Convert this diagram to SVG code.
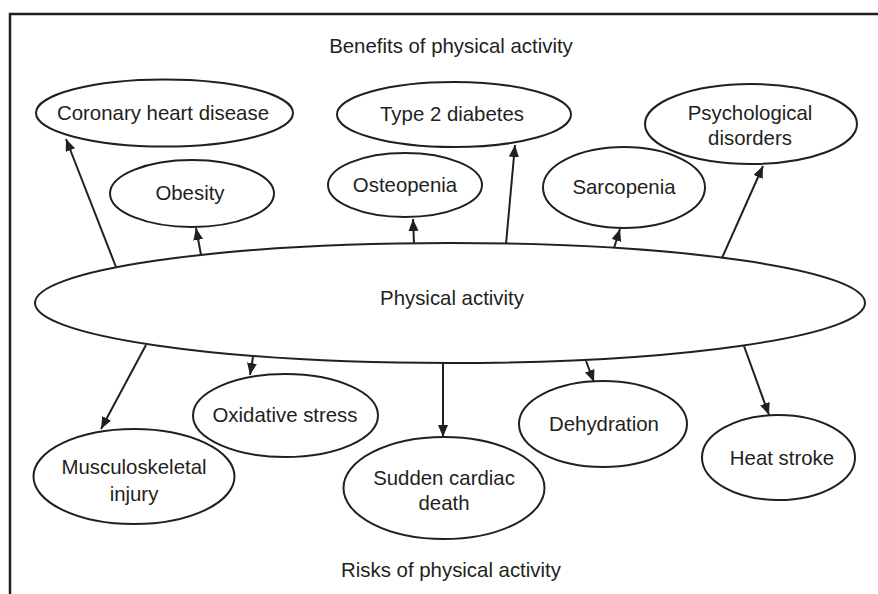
<svg xmlns="http://www.w3.org/2000/svg" width="878" height="594" viewBox="0 0 878 594">
<style>
.n{fill:#fff;stroke:#231f20;stroke-width:2}
.t{font-family:"Liberation Sans",Arial,sans-serif;font-size:20.4px;fill:#231f20;text-anchor:middle;dominant-baseline:central}
.c line{stroke:#231f20;stroke-width:2;marker-end:url(#ah)}
</style>
<defs>
<marker id="ah" markerUnits="userSpaceOnUse" markerWidth="14" markerHeight="12" refX="12" refY="5" orient="auto">
<path d="M0,0 L12,5 L0,10 Z" fill="#231f20"/>
</marker>
</defs>
<rect x="0" y="0" width="878" height="594" fill="#fff"/>
<path d="M10,594 V14 H878" fill="none" stroke="#231f20" stroke-width="2.5"/>
<text class="t" x="451" y="46">Benefits of physical activity</text>
<text class="t" x="451" y="570">Risks of physical activity</text>
<g id="physical-activity"><ellipse class="n" cx="450" cy="303" rx="415" ry="60"/><text class="t" x="452" y="298">Physical activity</text></g>
<g id="coronary"><ellipse class="n" cx="164.5" cy="113" rx="128.5" ry="33.5"/><text class="t" x="163" y="113">Coronary heart disease</text></g>
<g id="type2"><ellipse class="n" cx="454" cy="114.5" rx="117" ry="32.5"/><text class="t" x="452" y="114">Type 2 diabetes</text></g>
<g id="obesity"><ellipse class="n" cx="192" cy="193.5" rx="82" ry="33.5"/><text class="t" x="190" y="193">Obesity</text></g>
<g id="osteopenia"><ellipse class="n" cx="405" cy="185" rx="77" ry="32"/><text class="t" x="405" y="185">Osteopenia</text></g>
<g id="sarcopenia"><ellipse class="n" cx="624" cy="187.5" rx="81" ry="40.5"/><text class="t" x="624" y="187">Sarcopenia</text></g>
<g id="psychological"><ellipse class="n" cx="751" cy="124" rx="106" ry="40"/><text class="t" x="750" y="113">Psychological</text><text class="t" x="750" y="138">disorders</text></g>
<g id="oxidative"><ellipse class="n" cx="285.5" cy="415.5" rx="92.5" ry="41.5"/><text class="t" x="285" y="415">Oxidative stress</text></g>
<g id="musculoskeletal"><ellipse class="n" cx="134" cy="476.5" rx="100.5" ry="47.5"/><text class="t" x="134" y="467">Musculoskeletal</text><text class="t" x="134" y="494">injury</text></g>
<g id="sudden"><ellipse class="n" cx="444" cy="488" rx="100.5" ry="51"/><text class="t" x="444" y="478">Sudden cardiac</text><text class="t" x="444" y="503">death</text></g>
<g id="dehydration"><ellipse class="n" cx="603" cy="424" rx="84" ry="43"/><text class="t" x="604" y="424">Dehydration</text></g>
<g id="heatstroke"><ellipse class="n" cx="778.5" cy="457.5" rx="76.5" ry="42.5"/><text class="t" x="782" y="458">Heat stroke</text></g>
<g class="c" id="connectors">
<line x1="116" y1="267" x2="66" y2="139"/>
<line x1="201" y1="255" x2="196" y2="228"/>
<line x1="414" y1="244" x2="413" y2="219"/>
<line x1="506" y1="244" x2="515" y2="145"/>
<line x1="614" y1="248" x2="620" y2="229"/>
<line x1="722" y1="258" x2="763" y2="166"/>
<line x1="146" y1="345" x2="101" y2="429"/>
<line x1="253" y1="357" x2="250" y2="375"/>
<line x1="443" y1="363" x2="443" y2="437"/>
<line x1="586" y1="361" x2="594" y2="382"/>
<line x1="744" y1="346" x2="769" y2="415"/>
</g>
</svg>
